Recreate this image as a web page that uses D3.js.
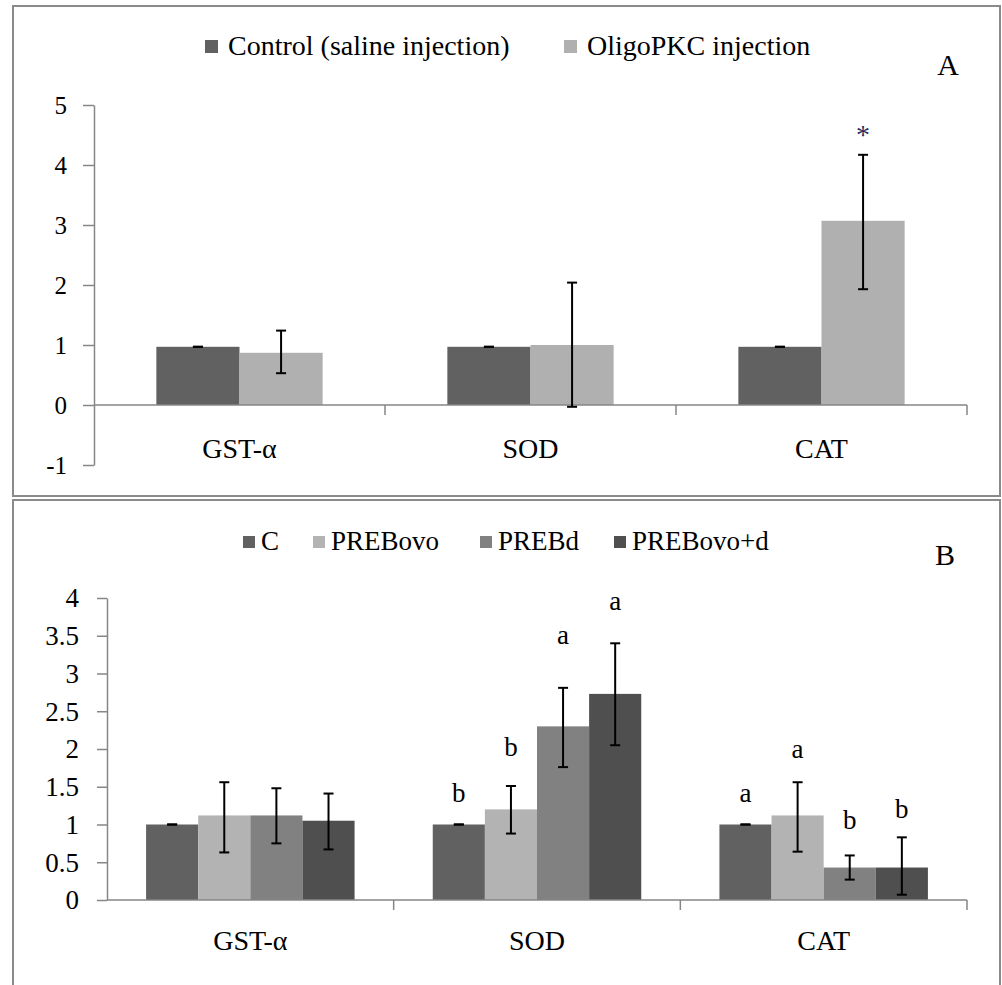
<!DOCTYPE html>
<html>

<head>
    <meta charset="utf-8">
    <style>
        body {
            margin: 0;
            background: #fff;
        }

        svg {
            display: block;
            font-family: 'Liberation Serif', 'Times New Roman', serif;
        }

        .axis .domain,
        .axis .tick line {
            stroke: #868686;
            stroke-width: 1.5;
        }

        .axis .tick text {
            fill: #000;
        }
    </style>
</head>

<body>
    <svg width="1002" height="985"></svg>
</body>

<script src="https://d3js.org/d3.v7.min.js"></script>

<script>
    // ---- data ----
    let genes = ["GST-α", "SOD", "CAT"]

    // panel A
    let seriesA = ["Control (saline injection)", "OligoPKC injection"]
    let colorsA = ["#616161", "#b0b0b0"]
    let controlA = [0.97, 0.97, 0.97]
    let controlA_lo = [0.97, 0.97, 0.97]
    let controlA_hi = [0.97, 0.97, 0.97]
    let oligoA = [0.87, 1.0, 3.07]
    let oligoA_lo = [0.53, -0.03, 1.93]
    let oligoA_hi = [1.24, 2.04, 4.17]
    let ticksA = [-1, 0, 1, 2, 3, 4, 5]
    let starA = { gene: "CAT", series: 1, text: "*", value: 4.35 }

    // panel B
    let seriesB = ["C", "PREBovo", "PREBd", "PREBovo+d"]
    let colorsB = ["#616161", "#b3b3b3", "#818181", "#4f4f4f"]
    let cB = [1.0, 1.0, 1.0]
    let cB_lo = [1.0, 1.0, 1.0]
    let cB_hi = [1.0, 1.0, 1.0]
    let ovoB = [1.12, 1.2, 1.12]
    let ovoB_lo = [0.63, 0.88, 0.64]
    let ovoB_hi = [1.56, 1.51, 1.56]
    let dB = [1.12, 2.3, 0.43]
    let dB_lo = [0.75, 1.76, 0.27]
    let dB_hi = [1.48, 2.81, 0.59]
    let ovodB = [1.05, 2.73, 0.43]
    let ovodB_lo = [0.67, 2.05, 0.07]
    let ovodB_hi = [1.41, 3.4, 0.83]
    let ticksB = [0, 0.5, 1, 1.5, 2, 2.5, 3, 3.5, 4]
    // significance letters: text and the value where their baseline sits
    let lettersB = [
        { gene: "SOD", series: 0, text: "b", value: 1.30 },
        { gene: "SOD", series: 1, text: "b", value: 1.91 },
        { gene: "SOD", series: 2, text: "a", value: 3.39 },
        { gene: "SOD", series: 3, text: "a", value: 3.84 },
        { gene: "CAT", series: 0, text: "a", value: 1.30 },
        { gene: "CAT", series: 1, text: "a", value: 1.88 },
        { gene: "CAT", series: 2, text: "b", value: 0.94 },
        { gene: "CAT", series: 3, text: "b", value: 1.09 }
    ]

    let svg = d3.select("svg")

    // panel frames
    svg.append("rect")
        .attr("x", 13).attr("y", 6).attr("width", 987).attr("height", 490)
        .attr("fill", "none").attr("stroke", "#8a8a8a").attr("stroke-width", 2)
    svg.append("rect")
        .attr("x", 13).attr("y", 500).attr("width", 987).attr("height", 486)
        .attr("fill", "none").attr("stroke", "#8a8a8a").attr("stroke-width", 2)

    function drawPanel(opt) {
        let g = svg.append("g")

        let x = d3.scaleBand()
            .domain(genes)
            .range([opt.left, opt.right])
            .padding(0)

        // excel style gap width 150%
        let xs = d3.scaleBand()
            .domain(d3.range(opt.series.length))
            .range([0, x.bandwidth()])
            .paddingInner(0)
            .paddingOuter(0.75)

        let y = d3.scaleLinear()
            .domain(opt.domain)
            .range([opt.bottom, opt.top])

        // bars
        let rows = []
        opt.values.forEach((vals, si) => {
            vals.forEach((v, gi) => {
                rows.push({ gene: genes[gi], s: si, v: v, lo: opt.lo[si][gi], hi: opt.hi[si][gi] })
            })
        })

        g.append("g")
            .selectAll("rect")
            .data(rows)
            .join("rect")
            .attr("x", d => x(d.gene) + xs(d.s))
            .attr("y", d => y(Math.max(0, d.v)))
            .attr("width", xs.bandwidth())
            .attr("height", d => Math.abs(y(d.v) - y(0)))
            .attr("fill", d => opt.colors[d.s])

        // y axis
        let yAxis = d3.axisLeft(y)
            .tickValues(opt.ticks)
            .tickSize(opt.tickLen)
            .tickSizeOuter(0)
            .tickPadding(opt.tickPad)
            .tickFormat(d => String(d))

        g.append("g")
            .attr("class", "axis")
            .attr("transform", `translate(${opt.left},0)`)
            .call(yAxis)
            .call(a => a.selectAll("text")
                .style("font-family", "'Liberation Serif', serif")
                .style("font-size", opt.tickFont + "px")
                .attr("dy", "0.33em"))

        // category axis at zero
        let bounds = genes.map(d => x(d)).concat([opt.right])
        g.append("line")
            .attr("x1", opt.left).attr("x2", opt.right)
            .attr("y1", y(0)).attr("y2", y(0))
            .attr("stroke", "#868686").attr("stroke-width", 1.5)
        g.append("g")
            .selectAll("line")
            .data(bounds.slice(1))
            .join("line")
            .attr("x1", d => d).attr("x2", d => d)
            .attr("y1", y(0)).attr("y2", y(0) + 10)
            .attr("stroke", "#868686").attr("stroke-width", 1.5)

        g.append("g")
            .selectAll("text")
            .data(genes)
            .join("text")
            .attr("x", d => x(d) + x.bandwidth() / 2)
            .attr("y", opt.catY)
            .attr("text-anchor", "middle")
            .style("font-size", "28px")
            .text(d => d)

        // error bars
        let cap = 5
        let eb = g.append("g")
            .selectAll("g")
            .data(rows)
            .join("g")
            .attr("stroke", "#000")
            .attr("stroke-width", 2)
            .attr("transform", d => `translate(${x(d.gene) + xs(d.s) + xs.bandwidth() / 2},0)`)

        eb.append("line")
            .attr("y1", d => y(d.lo)).attr("y2", d => y(d.hi))
        eb.append("line")
            .attr("x1", -cap).attr("x2", cap)
            .attr("y1", d => y(d.hi)).attr("y2", d => y(d.hi))
        eb.append("line")
            .attr("x1", -cap).attr("x2", cap)
            .attr("y1", d => y(d.lo)).attr("y2", d => y(d.lo))

        // annotations
        g.append("g")
            .selectAll("text")
            .data(opt.notes)
            .join("text")
            .attr("x", d => x(d.gene) + xs(d.series) + xs.bandwidth() / 2)
            .attr("y", d => y(d.value))
            .attr("text-anchor", "middle")
            .attr("fill", opt.noteColor)
            .style("font-size", opt.noteFont + "px")
            .text(d => d.text)

        // legend
        let leg = g.append("g")
            .selectAll("g")
            .data(opt.series)
            .join("g")
            .attr("transform", (d, i) => `translate(${opt.legX[i]},${opt.legY})`)

        leg.append("rect")
            .attr("x", 0)
            .attr("y", -opt.sq - 2)
            .attr("width", opt.sq)
            .attr("height", opt.sq)
            .attr("fill", (d, i) => opt.colors[i])
        leg.append("text")
            .attr("x", opt.sq + opt.legGap)
            .attr("y", 0)
            .style("font-size", opt.legFont + "px")
            .text(d => d)

        // panel letter
        g.append("text")
            .attr("x", opt.letterX)
            .attr("y", opt.letterY)
            .attr("text-anchor", "middle")
            .style("font-size", "30px")
            .text(opt.letter)
    }

    drawPanel({
        left: 94, right: 967, top: 105, bottom: 465,
        domain: [-1, 5], ticks: ticksA,
        tickLen: 11, tickPad: 16, tickFont: 25,
        series: seriesA, colors: colorsA,
        values: [controlA, oligoA],
        lo: [controlA_lo, oligoA_lo],
        hi: [controlA_hi, oligoA_hi],
        catY: 458,
        notes: [starA], noteColor: "#2b2b5e", noteFont: 28,
        legX: [205, 564], legY: 55, sq: 13, legGap: 10, legFont: 28,
        letter: "A", letterX: 948, letterY: 75
    })

    drawPanel({
        left: 107, right: 967, top: 598, bottom: 900,
        domain: [0, 4], ticks: ticksB,
        tickLen: 10, tickPad: 18, tickFont: 27,
        series: seriesB, colors: colorsB,
        values: [cB, ovoB, dB, ovodB],
        lo: [cB_lo, ovoB_lo, dB_lo, ovodB_lo],
        hi: [cB_hi, ovoB_hi, dB_hi, ovodB_hi],
        catY: 950,
        notes: lettersB, noteColor: "#000", noteFont: 27,
        legX: [243, 313, 480, 614], legY: 550, sq: 12, legGap: 6, legFont: 27,
        letter: "B", letterX: 945, letterY: 565
    })
</script>

</html>
